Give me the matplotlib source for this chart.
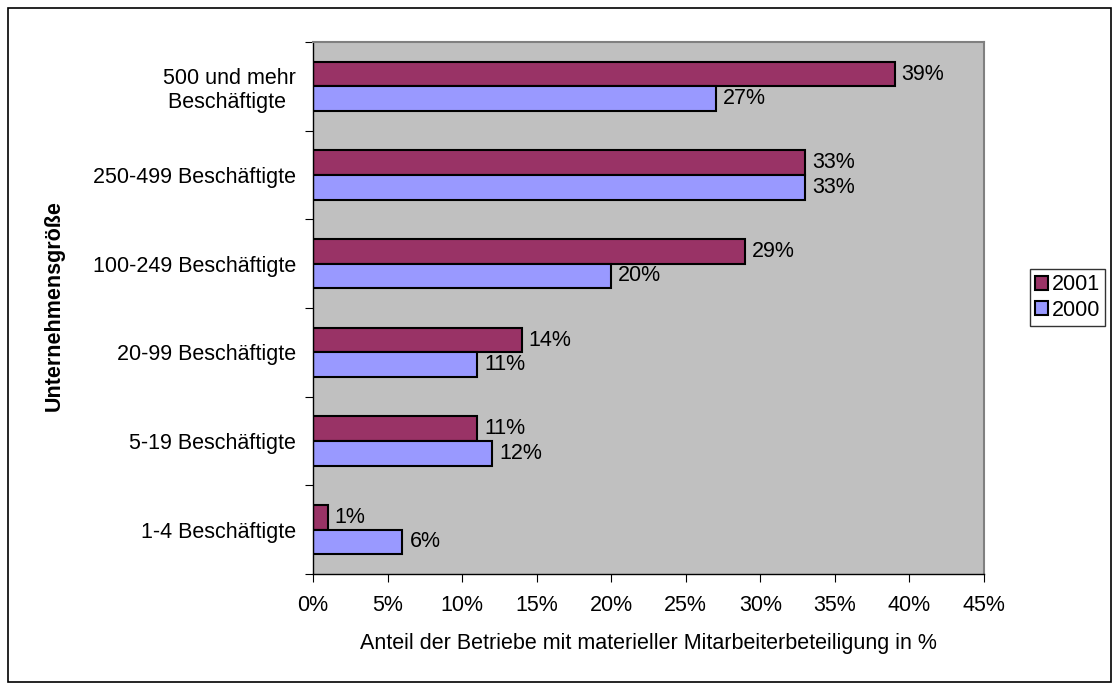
import matplotlib
matplotlib.use("Agg")
import matplotlib.pyplot as plt
from matplotlib.patches import Rectangle
import numpy as np

plt.rcParams['font.family'] = ['Liberation Sans', 'DejaVu Sans']
FS = 15.5

categories = ["1-4 Beschäftigte", "5-19 Beschäftigte", "20-99 Beschäftigte",
              "100-249 Beschäftigte", "250-499 Beschäftigte", "500 und mehr\nBeschäftigte "]
values_2001 = [1, 11, 14, 29, 33, 39]
values_2000 = [6, 12, 11, 20, 33, 27]
xticks = [0, 5, 10, 15, 20, 25, 30, 35, 40, 45]

W, H = 1119, 690
fig = plt.figure(figsize=(W / 100, H / 100), dpi=100)
fig.patches.append(Rectangle((8 / W, 1 - 682 / H), 1103 / W, 674 / H, transform=fig.transFigure,
                             fill=False, edgecolor='black', linewidth=1.2))
ax = fig.add_axes([313 / W, 1 - 574 / H, 671 / W, 532 / H])
ax.set_facecolor('#C0C0C0')

y = np.arange(len(categories))
h = 0.277
b1 = ax.barh(y + h/2, values_2001, height=h, color='#993366', edgecolor='black', linewidth=1.5, label='2001')
b2 = ax.barh(y - h/2, values_2000, height=h, color='#9999FF', edgecolor='black', linewidth=1.5, label='2000')

for yy, v in zip(y + h/2, values_2001):
    ax.annotate(f"{v}%", (v, yy), xytext=(5, 0), textcoords='offset points', va='center', ha='left', fontsize=FS)
for yy, v in zip(y - h/2, values_2000):
    ax.annotate(f"{v}%", (v, yy), xytext=(5, 0), textcoords='offset points', va='center', ha='left', fontsize=FS)

ax.set_xlim(0, 45)
ax.set_ylim(-0.5, len(categories) - 0.5)
ax.set_xticks(xticks)
ax.set_xticklabels([f"{t}%" for t in xticks], fontsize=FS)
ax.set_yticks(np.arange(len(categories) + 1) - 0.5)
ax.set_yticklabels([])
ax.set_yticks(y, minor=True)
ax.set_yticklabels(categories, minor=True, fontsize=FS, multialignment='center')
ax.tick_params(axis='y', which='minor', length=0, pad=12)
ax.tick_params(axis='y', which='major', length=6, direction='out')
ax.tick_params(axis='x', length=6, direction='out', pad=9)

for s in ['top', 'right']:
    ax.spines[s].set_color('#808080')
    ax.spines[s].set_linewidth(1.5)
for s in ['left', 'bottom']:
    ax.spines[s].set_color('black')
    ax.spines[s].set_linewidth(1.0)

fig.text(648 / W, 1 - 643 / H, "Anteil der Betriebe mit materieller Mitarbeiterbeteiligung in %",
         fontsize=FS, ha='center', va='center')
fig.text(54 / W, 1 - 306 / H, "Unternehmensgröße", fontsize=FS, fontweight='bold',
         rotation=90, ha='center', va='center')

leg = fig.legend(handles=[b1, b2], loc='upper left', bbox_to_anchor=(1030 / W, 1 - 269 / H), frameon=True,
                 fancybox=False, edgecolor='black', fontsize=FS, handlelength=0.6, handleheight=0.6,
                 handletextpad=0.15, borderpad=0.25, labelspacing=0.2, borderaxespad=0)
leg.get_frame().set_linewidth(1.0)

fig.savefig("out.png", dpi=100)
